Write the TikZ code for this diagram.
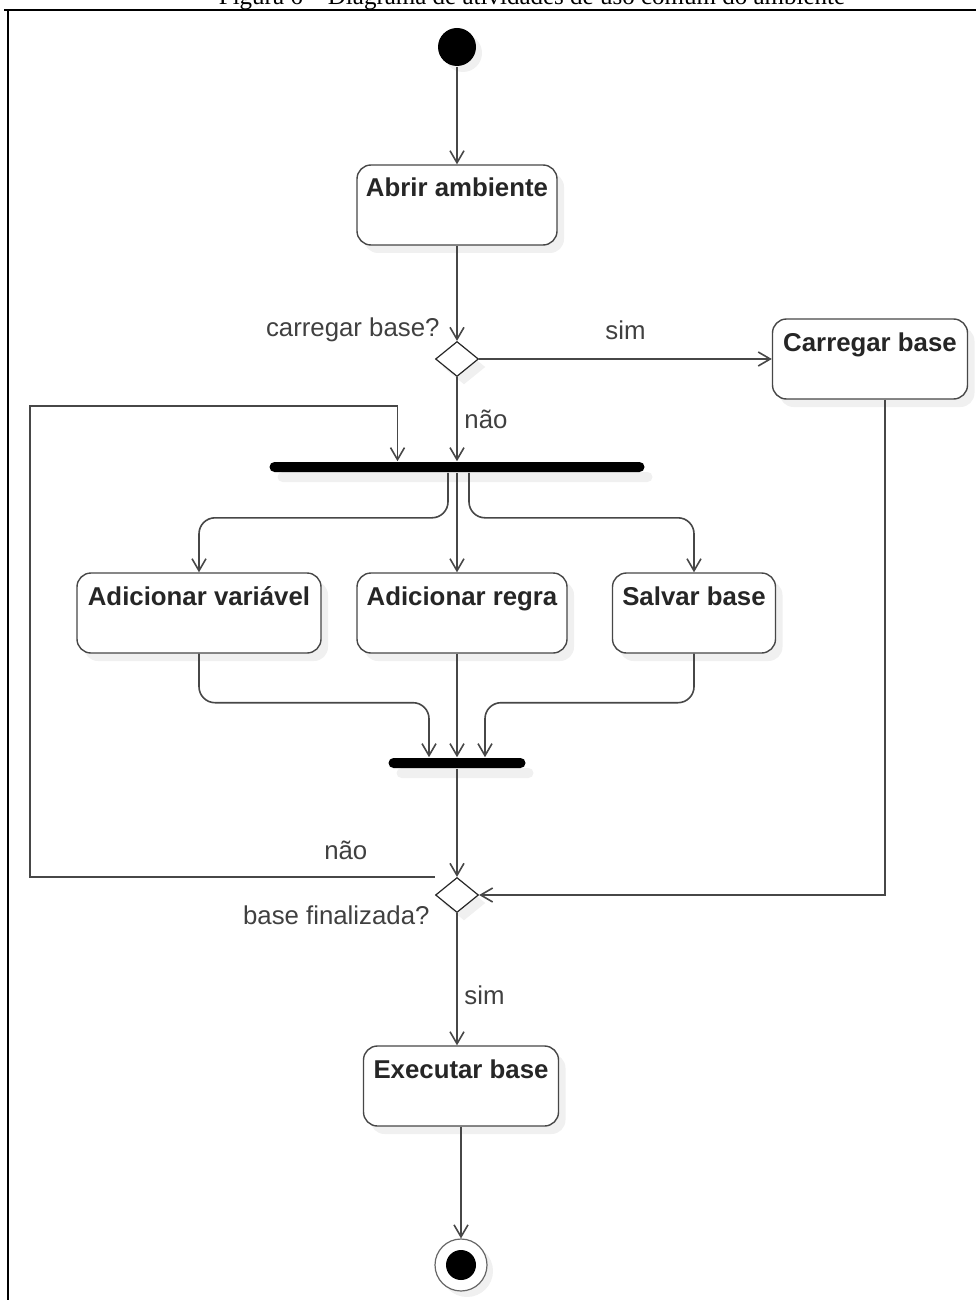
\documentclass[tikz,border=0pt]{standalone}
\usepackage{fontspec}
\setmainfont{Liberation Sans}
\newfontfamily\capfont{Liberation Serif}
\usetikzlibrary{arrows.meta, positioning, shapes.geometric, shadows}

\begin{document}
\begin{tikzpicture}[
            x = 0.5pt, y = -0.5pt, % one unit = one pixel, y going down
            > = {Straight Barb[length=6pt, width=7pt]}, % open arrow head
            line width = 0.8pt
        ]

        \tikzstyle{act}=[
            draw = black!72,
            line width = 0.7pt,
            fill = white,
            rounded corners = 7pt,
            minimum height = 40pt,
            text height = 12pt,
            text depth = 20pt,
            inner ysep = 4pt,
            text = black!85,
            font = \bfseries\fontsize{12.9}{15}\selectfont,
            drop shadow = {shadow xshift=3.5pt, shadow yshift=-4pt, fill=black!6, opacity=1}
        ]
        \tikzstyle{decision}=[
            diamond,
            draw = black!85,
            line width = 0.6pt,
            fill = white,
            minimum width = 21.5pt,
            minimum height = 17.5pt,
            inner sep = 0pt,
            drop shadow = {shadow xshift=3.5pt, shadow yshift=-4pt, fill=black!6, opacity=1}
        ]
        \tikzstyle{bar}=[
            fill = black,
            rounded corners = 2.5pt,
            minimum height = 5pt,
            inner sep = 0pt,
            drop shadow = {shadow xshift=4pt, shadow yshift=-5pt, fill=black!6, opacity=1}
        ]
        \tikzstyle{startnode}=[
            circle,
            fill = black,
            minimum size = 19pt,
            inner sep = 0pt,
            drop shadow = {shadow xshift=3pt, shadow yshift=-3pt, fill=black!6, opacity=1}
        ]
        \tikzstyle{endnode}=[
            circle,
            draw = black!60,
            line width = 0.6pt,
            fill = white,
            minimum size = 26pt,
            inner sep = 0pt,
            drop shadow = {shadow xshift=3pt, shadow yshift=-3pt, fill=black!6, opacity=1}
        ]
        \tikzstyle{lbl}=[
            text = black!75,
            font = \fontsize{12.9}{15}\selectfont
        ]
        \tikzstyle{flow}=[->, draw = black!72]

        \useasboundingbox (0,0) rectangle (976,1300);

        % frame of the page and its caption
        \node[anchor=base, font=\capfont\fontsize{12.5}{15}\selectfont] (cap) at (532,5)
            {Figura 6 – Diagrama de atividades de uso comum do ambiente};
        \draw[line width=1.3pt] (4,10) -- (976,10);
        \draw[line width=1.2pt] (8,10) -- (8,1300);

        \node[startnode] (start) at (457,47) {};
        \node[act, minimum width=100pt] (abrir) [below of=start, node distance=79pt] {Abrir ambiente};
        \node[decision] (dec1) [below of=abrir, node distance=77pt] {};
        \node[act, minimum width=97.5pt] (carregar) [right of=dec1, node distance=206.5pt] {Carregar base};
        \node[bar, minimum width=187.5pt] (fork) [below of=dec1, node distance=54pt] {};
        \node[act, minimum width=105pt, xshift=2.5pt] (regra) [below of=fork, node distance=73pt] {Adicionar regra};
        \node[act, minimum width=122pt] (var) [left of=regra, node distance=131.5pt] {Adicionar variável};
        \node[act, minimum width=81.5pt] (salvar) [right of=regra, node distance=116pt] {Salvar base};
        \node[bar, minimum width=68.5pt] (join) [below of=fork, node distance=148pt] {};
        \node[decision] (dec2) [below of=join, node distance=66pt] {};
        \node[act, minimum width=97.5pt, xshift=2pt] (exec) [below of=dec2, node distance=95.5pt] {Executar base};
        \node[endnode] (final) [below of=exec, node distance=89.5pt] {};
        \fill (final) circle (7.5pt);

        \node[lbl, anchor=east] (q1) at (447,330) {carregar base?};
        \node[lbl, anchor=east] (q2) at (437,915) {base finalizada?};

        \coordinate (back) at (30,406);

        \draw[flow] (start) -- (abrir);
        \draw[flow] (abrir) -- (dec1);
        \draw[flow] (dec1) -- node[lbl, above=6pt] {sim} (carregar);
        \draw[flow] (dec1) -- node[lbl, right] {não} (fork);

        \draw[flow, rounded corners=8pt] ([xshift=-4.5pt]fork.south) -- ++(0,-22.5pt) -| (var.north);
        \draw[flow] (fork.south) -- (fork.south |- regra.north);
        \draw[flow, rounded corners=8pt] ([xshift=6pt]fork.south) -- ++(0,-22.5pt) -| (salvar.north);

        \draw[flow, rounded corners=8pt] (var.south) -- ++(0,-24.5pt) -| ([xshift=-14pt]join.north);
        \draw[flow] (join.north |- regra.south) -- (join.north);
        \draw[flow, rounded corners=8pt] (salvar.south) -- ++(0,-24.5pt) -| ([xshift=14pt]join.north);

        \draw[flow] (join) -- (dec2);
        \draw[flow] ([xshift=7.5pt]carregar.south) |- (dec2.east);
        \draw[flow] ([yshift=9pt]dec2.west) -| node[lbl, above=5pt, pos=0.11] {não} (back)
            -| ([xshift=-29.75pt]fork.north);

        \draw[flow] (dec2.south) -- node[lbl, right, pos=0.62] {sim} (dec2.south |- exec.north);
        \draw[flow] (exec) -- (final);
    \end{tikzpicture}
\end{document}
